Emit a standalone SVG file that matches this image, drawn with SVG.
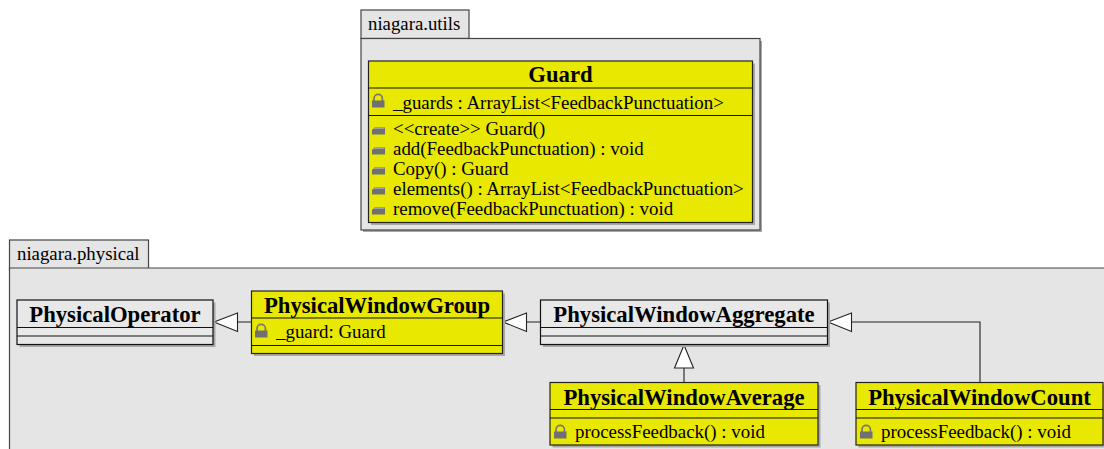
<svg xmlns="http://www.w3.org/2000/svg" width="1104" height="449" viewBox="0 0 1104 449">
<style>
text{font-family:"Liberation Serif","Times New Roman",serif;fill:#000}
.t{font-size:22.7px;font-weight:bold;text-anchor:middle}
.m{font-size:18.9px}
.p{font-size:18.8px}
.pk{fill:#e5e5e5;stroke:#444;stroke-width:1.2}
.sh{fill:#a8a8a8}
.y{fill:#e8e800;stroke:#222;stroke-width:1.2}
.w{fill:#e8e8e8;stroke:#111;stroke-width:1.2}
.d{stroke:#111;stroke-width:1.1;fill:none}
.c{stroke:#222;stroke-width:1.1;fill:none}
.a{fill:#fff;stroke:#222;stroke-width:1.1}
</style>
<defs>
<g id="lock"><path d="M2 7V4.500a4.200 4.200 0 0 1 8.400 0V7" fill="none" stroke="#777" stroke-width="1.700"/><rect x="0" y="6.500" width="12.500" height="7" fill="#707070"/></g>
<g id="meth"><path d="M0 3L3 0H13V7.500H0Z" fill="#707070"/><path d="M0 3L3 0H13L12 2H0Z" fill="#a0a0a0"/></g>
</defs>
<g id="pkg-utils">
<rect class="sh" x="363" y="41" width="399" height="191"/>
<rect class="pk" x="361" y="10" width="108" height="28.500"/>
<rect class="pk" x="361" y="38.500" width="399" height="191.500"/>
<text class="p" x="368" y="30">niagara.utils</text>
</g>
<g id="pkg-physical">
<rect class="pk" x="9.500" y="240" width="139" height="30"/>
<path d="M9.500 449V268H1104V449Z" fill="#e5e5e5"/>
<path d="M9.500 449V268H1104" fill="none" stroke="#444" stroke-width="1.200"/>
<text class="p" x="17" y="260">niagara.physical</text>
</g>
<g id="connectors">
<path class="c" d="M237.500 322H251.500M526.500 322H540.500M851.500 322H980V382.500M684 368V382.500"/>
<path class="a" d="M214 322L237.500 313V331.500Z"/>
<path class="a" d="M503 322L526.500 313V331.500Z"/>
<path class="a" d="M828 322L851.500 313V331.500Z"/>
<path class="a" d="M684 345L674.500 368H693.500Z"/>
</g>
<g id="Guard">
<rect class="sh" x="371" y="63.500" width="384" height="161.500"/>
<rect class="y" x="368.500" y="61" width="384" height="161.500"/>
<path class="d" d="M368.500 88H752.500M368.500 115.500H752.500"/>
<text class="t" x="560.500" y="82">Guard</text>
<use href="#lock" x="372" y="94"/>
<text class="m" x="393" y="109">_guards : ArrayList&lt;FeedbackPunctuation&gt;</text>
<use href="#meth" x="372" y="127"/><text class="m" x="393" y="135">&lt;&lt;create&gt;&gt; Guard()</text>
<use href="#meth" x="372" y="147"/><text class="m" x="393" y="155">add(FeedbackPunctuation) : void</text>
<use href="#meth" x="372" y="167"/><text class="m" x="393" y="175">Copy() : Guard</text>
<use href="#meth" x="372" y="187"/><text class="m" x="393" y="195">elements() : ArrayList&lt;FeedbackPunctuation&gt;</text>
<use href="#meth" x="372" y="207"/><text class="m" x="393" y="215">remove(FeedbackPunctuation) : void</text>
</g>
<g id="PhysicalOperator">
<rect class="sh" x="19.500" y="302.500" width="196" height="44.500"/>
<rect class="w" x="17" y="300" width="196" height="44.500"/>
<path class="d" d="M17 327.500H213M17 336H213"/>
<text class="t" x="115" y="322">PhysicalOperator</text>
</g>
<g id="PhysicalWindowGroup">
<rect class="sh" x="254" y="293.500" width="251" height="62.500"/>
<rect class="y" x="251.500" y="291" width="251" height="62.500"/>
<path class="d" d="M251.500 318H502.500M251.500 345.500H502.500"/>
<text class="t" x="377" y="312.500">PhysicalWindowGroup</text>
<use href="#lock" x="255" y="324"/>
<text class="m" x="276" y="338">_guard: Guard</text>
</g>
<g id="PhysicalWindowAggregate">
<rect class="sh" x="543" y="302.500" width="287" height="44.500"/>
<rect class="w" x="540.500" y="300" width="287" height="44.500"/>
<path class="d" d="M540.500 327.500H827.500M540.500 336H827.500"/>
<text class="t" x="684" y="322">PhysicalWindowAggregate</text>
</g>
<g id="PhysicalWindowAverage">
<rect class="sh" x="552.500" y="385" width="268" height="62.500"/>
<rect class="y" x="550" y="382.500" width="268" height="62.500"/>
<path class="d" d="M550 409.500H818M550 418H818"/>
<text class="t" x="684" y="404.500">PhysicalWindowAverage</text>
<use href="#lock" x="554" y="425"/>
<text class="m" x="575" y="438">processFeedback() : void</text>
</g>
<g id="PhysicalWindowCount">
<rect class="sh" x="858.500" y="385" width="247" height="62.500"/>
<rect class="y" x="856" y="382.500" width="247" height="62.500"/>
<path class="d" d="M856 409.500H1103M856 418H1103"/>
<text class="t" x="979.500" y="404.500">PhysicalWindowCount</text>
<use href="#lock" x="860" y="425"/>
<text class="m" x="881" y="438">processFeedback() : void</text>
</g>
</svg>
